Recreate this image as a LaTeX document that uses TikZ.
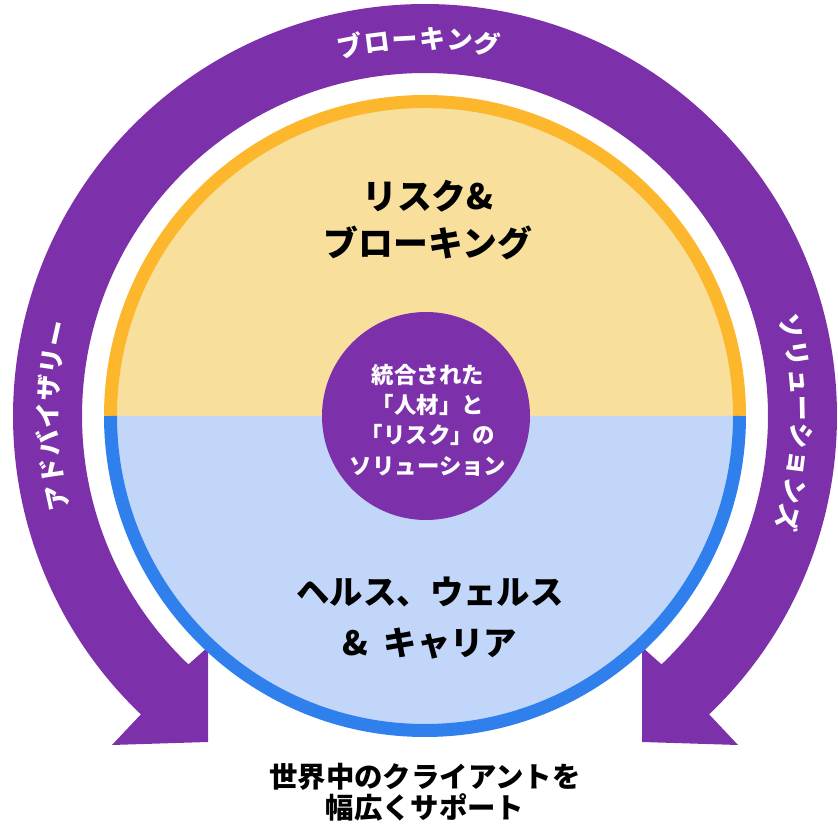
\documentclass[tikz,border=0pt]{standalone}
\usepackage{fontspec}
\newfontfamily\jp{Noto Sans CJK JP}
\definecolor{arcpurple}{RGB}{124,49,170}
\definecolor{yfill}{RGB}{248,224,156}
\definecolor{oring}{RGB}{252,183,45}
\definecolor{bfill}{RGB}{194,214,250}
\definecolor{bring}{RGB}{47,128,237}
\begin{document}
\begin{tikzpicture}[x=1bp,y=1bp,
  arcchar/.style={text=white, inner sep=-2.5bp, font=\jp\bfseries\fontsize{26}{26}\selectfont, text height=21bp, text depth=4bp},
  bigtxt/.style={align=center, inner sep=0pt, text=black, font=\jp\bfseries\fontsize{35}{47}\selectfont},
  healthtxt/.style={align=center, inner sep=0pt, text=black, font=\jp\bfseries\fontsize{33.5}{52}\selectfont},
  coretxt/.style={align=center, inner sep=0pt, text=white, font=\jp\bfseries\fontsize{22.5}{30.5}\selectfont},
  bottxt/.style={align=center, inner sep=0pt, text=black, font=\jp\bfseries\fontsize{28.5}{31.5}\selectfont}]
\useasboundingbox (0,0) rectangle (838,829);
\begin{scope}[shift={(425,413)}]
  % purple double-headed arc
  \fill[arcpurple] (226.4:343) arc[start angle=226.4, end angle=-46.4, radius=343]
    -- (217,-231) -- (217,-326) -- (313,-329)
    -- (-46.4:412) arc[start angle=-46.4, end angle=226.4, radius=412]
    -- (-313,-329) -- (-217,-326) -- (-217,-231) -- cycle;
  % inner disc
  \fill[yfill] (0:316) arc[start angle=0, end angle=180, radius=316] -- cycle;
  \fill[bfill] (180:316) arc[start angle=180, end angle=360, radius=316] -- cycle;
  \draw[oring, line width=13bp] (0:314.5) arc[start angle=0, end angle=180, radius=314.5];
  \draw[bring, line width=13bp] (180:314.5) arc[start angle=180, end angle=360, radius=314.5];
  % core
  \node[circle, fill=arcpurple, minimum size=208bp, inner sep=0pt] (core) at (1,0) {};
  \node[coretxt] (coretext) at (3,-4) {統合された\\「人材」と\\「リスク」の\\ソリューション};
  % section labels
  \node[bigtxt] (risk) at (3,196) {リスク\&\\ブローキング};
  \node[healthtxt] (health) at (5,-202) {ヘルス、ウェルス\\\&\hspace{0.45em}キャリア};
  % arc texts
  \foreach \ch [count=\i from 0] in {ブ,ロ,ー,キ,ン,グ} {
    \pgfmathsetmacro\ang{91+2.5*4.2-\i*4.2}
    \node[arcchar, rotate=\ang-90] (top\i) at (\ang:376) {\ch};
  }
  \foreach \ch [count=\i from 0] in {ア,ド,バ,イ,ザ,リ,ー} {
    \pgfmathsetmacro\ang{180+3*4.2-\i*4.2}
    \node[arcchar, rotate=\ang-90] (left\i) at (\ang:376) {\ch};
  }
  \foreach \ch [count=\i from 0] in {ソ,リ,ュ,ー,シ,ョ,ン,ズ} {
    \pgfmathsetmacro\ang{-1+3.5*4.2-\i*4.2}
    \node[arcchar, rotate=\ang-90] (right\i) at (\ang:376) {\ch};
  }
\end{scope}
\node[bottxt] (bottom) at (425,37) {世界中のクライアントを\\幅広くサポート};
\end{tikzpicture}
\end{document}
